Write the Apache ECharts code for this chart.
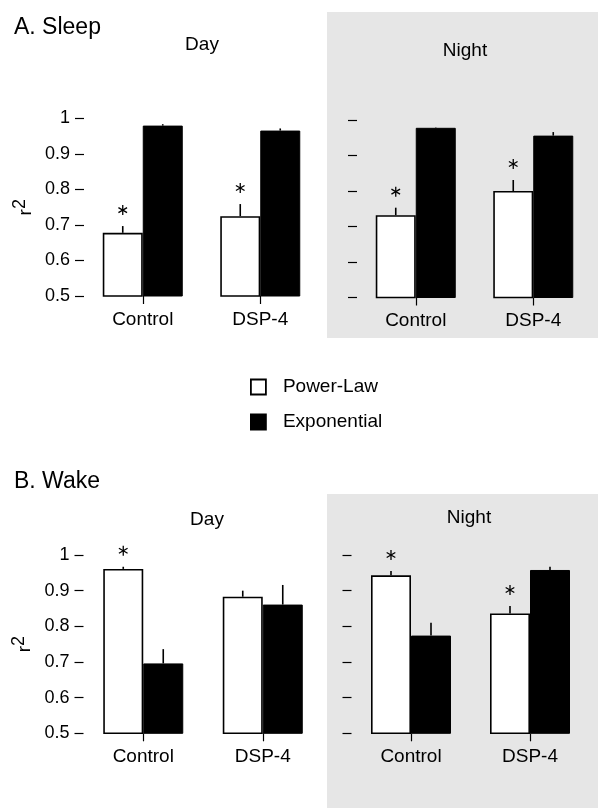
<!DOCTYPE html>
<html>
<head>
<meta charset="utf-8">
<style>
  html, body { margin: 0; padding: 0; background: #fff; }
  #chart { width: 598px; height: 808px; }
</style>
<script src="https://cdn.jsdelivr.net/npm/echarts@6/dist/echarts.min.js"></script>
</head>
<body>
<div id="chart"></div>
<script>
// Goodness of fit (r²) of power-law vs exponential models for bout durations
const categories = ['Control', 'DSP-4'];
const seriesNames = ['Power-Law', 'Exponential'];
const yTicks = [0.5, 0.6, 0.7, 0.8, 0.9, 1];

// A. Sleep
const sleepDayPower = [0.678, 0.725];
const sleepDayPowerErr = [0.019, 0.034];
const sleepDayExp = [0.980, 0.966];
const sleepDayExpErr = [0.004, 0.006];
const sleepDayStar = [true, true];

const sleepNightPower = [0.732, 0.800];
const sleepNightPowerErr = [0.021, 0.031];
const sleepNightExp = [0.978, 0.956];
const sleepNightExpErr = [0.001, 0.010];
const sleepNightStar = [true, true];

// B. Wake
const wakeDayPower = [0.961, 0.883];
const wakeDayPowerErr = [0.006, 0.017];
const wakeDayExp = [0.696, 0.861];
const wakeDayExpErr = [0.040, 0.055];
const wakeDayStar = [true, false];

const wakeNightPower = [0.943, 0.836];
const wakeNightPowerErr = [0.012, 0.021];
const wakeNightExp = [0.774, 0.958];
const wakeNightExpErr = [0.036, 0.009];
const wakeNightStar = [true, true];

const FONT = '"Liberation Sans", Arial, Helvetica, sans-serif';
const BAR_W = 40;
const STAR_R = 5;      // asterisk arm length
const STAR_LIFT = 16;  // distance from whisker tip to asterisk centre

const panels = [
  { grid: { left: 84, top: 118.5, width: 235, height: 177.5 }, showLabels: true,
    power: sleepDayPower, powerErr: sleepDayPowerErr, exp: sleepDayExp, expErr: sleepDayExpErr, star: sleepDayStar },
  { grid: { left: 357, top: 120, width: 235, height: 177.5 }, showLabels: false,
    power: sleepNightPower, powerErr: sleepNightPowerErr, exp: sleepNightExp, expErr: sleepNightExpErr, star: sleepNightStar },
  { grid: { left: 83.5, top: 555, width: 239, height: 178.3 }, showLabels: true,
    power: wakeDayPower, powerErr: wakeDayPowerErr, exp: wakeDayExp, expErr: wakeDayExpErr, star: wakeDayStar },
  { grid: { left: 351.5, top: 555, width: 238, height: 178.3 }, showLabels: false,
    power: wakeNightPower, powerErr: wakeNightPowerErr, exp: wakeNightExp, expErr: wakeNightExpErr, star: wakeNightStar }
];

// upper whisker of each bar, plus a six-armed asterisk where the difference is significant
function renderErr(params, api) {
  const cat = api.value(0), v = api.value(1), e = api.value(2), side = api.value(3), star = api.value(4);
  const base = api.coord([cat, v]);
  const top = api.coord([cat, v + e]);
  const x = base[0] + (side === 0 ? -BAR_W / 2 : BAR_W / 2);
  const children = [{
    type: 'line',
    shape: { x1: x, y1: base[1], x2: x, y2: top[1] },
    style: { stroke: '#000', lineWidth: 1.6 }
  }];
  if (star) {
    const cy = top[1] - STAR_LIFT;
    [90, 30, 150].forEach(deg => {
      const a = deg * Math.PI / 180;
      const dx = Math.cos(a) * STAR_R, dy = Math.sin(a) * STAR_R;
      children.push({
        type: 'line',
        shape: { x1: x - dx, y1: cy - dy, x2: x + dx, y2: cy + dy },
        style: { stroke: '#000', lineWidth: 1.3 }
      });
    });
  }
  return { type: 'group', children: children };
}

const grid = [], xAxis = [], yAxis = [], series = [];
panels.forEach((p, i) => {
  grid.push(p.grid);
  xAxis.push({
    type: 'category', gridIndex: i, data: categories,
    axisLine: { show: false },
    axisTick: { show: true, alignWithLabel: true, length: 8, lineStyle: { color: '#000', width: 1.2 } },
    axisLabel: { color: '#000', fontSize: 19, fontFamily: FONT, margin: 14 }
  });
  yAxis.push({
    type: 'value', gridIndex: i, min: yTicks[0], max: yTicks[yTicks.length - 1], interval: 0.1,
    name: p.showLabels ? '{a|r}{b|2}' : '', nameLocation: 'middle', nameRotate: 90, nameGap: 49,
    nameTextStyle: {
      color: '#000', fontSize: 19, fontFamily: FONT,
      rich: {
        a: { fontSize: 19, fontFamily: FONT, color: '#000', verticalAlign: 'bottom' },
        b: { fontSize: 18, fontFamily: FONT, color: '#000', verticalAlign: 'bottom', padding: [0, 0, 6, 0] }
      }
    },
    splitLine: { show: false },
    axisLine: { show: false },
    axisTick: { show: true, length: 9, lineStyle: { color: '#000', width: 1.2 } },
    axisLabel: { show: p.showLabels, color: '#000', fontSize: 18, fontFamily: FONT, margin: 14,
                 formatter: v => String(Math.round(v * 10) / 10) }
  });
  series.push({
    name: seriesNames[0], type: 'bar', xAxisIndex: i, yAxisIndex: i, barWidth: BAR_W, barGap: '0%',
    data: p.power, itemStyle: { color: '#fff', borderColor: '#000', borderWidth: 1.6 },
    emphasis: { disabled: true }
  });
  series.push({
    name: seriesNames[1], type: 'bar', xAxisIndex: i, yAxisIndex: i, barWidth: BAR_W, barGap: '0%',
    data: p.exp, itemStyle: { color: '#000', borderColor: '#000', borderWidth: 1 },
    emphasis: { disabled: true }
  });
  const errData = [];
  categories.forEach((c, k) => {
    errData.push([k, p.power[k], p.powerErr[k], 0, p.star[k] ? 1 : 0]);
    errData.push([k, p.exp[k], p.expErr[k], 1, 0]);
  });
  series.push({
    type: 'custom', xAxisIndex: i, yAxisIndex: i, renderItem: renderErr, data: errData,
    clip: false, z: 5, silent: true
  });
});

const chart = echarts.init(document.getElementById('chart'), null, { renderer: 'canvas' });
chart.setOption({
  animation: false,
  backgroundColor: '#fff',
  textStyle: { fontFamily: FONT },
  grid: grid,
  xAxis: xAxis,
  yAxis: yAxis,
  series: series,
  legend: {
    data: seriesNames, orient: 'vertical', left: 245, top: 372,
    icon: 'rect', itemWidth: 15, itemHeight: 15, itemGap: 15,
    itemStyle: { borderColor: '#000', borderWidth: 1.8 },
    textStyle: { color: '#000', fontSize: 19, fontFamily: FONT, padding: [0, 0, 0, 12], lineHeight: 20 },
    selectedMode: false
  },
  graphic: [
    { type: 'rect', z: -10, shape: { x: 327, y: 12, width: 271, height: 326 }, style: { fill: '#e6e6e6' } },
    { type: 'rect', z: -10, shape: { x: 327, y: 494, width: 271, height: 314 }, style: { fill: '#e6e6e6' } },
    { type: 'text', style: { x: 14, y: 28, text: 'A. Sleep', fontSize: 23, fontFamily: FONT, fill: '#000', verticalAlign: 'middle' } },
    { type: 'text', style: { x: 14, y: 482, text: 'B. Wake', fontSize: 23, fontFamily: FONT, fill: '#000', verticalAlign: 'middle' } },
    { type: 'text', style: { x: 202, y: 45, text: 'Day', fontSize: 19, fontFamily: FONT, fill: '#000', align: 'center', verticalAlign: 'middle' } },
    { type: 'text', style: { x: 465, y: 51, text: 'Night', fontSize: 19, fontFamily: FONT, fill: '#000', align: 'center', verticalAlign: 'middle' } },
    { type: 'text', style: { x: 207, y: 520, text: 'Day', fontSize: 19, fontFamily: FONT, fill: '#000', align: 'center', verticalAlign: 'middle' } },
    { type: 'text', style: { x: 469, y: 518, text: 'Night', fontSize: 19, fontFamily: FONT, fill: '#000', align: 'center', verticalAlign: 'middle' } }
  ]
});
</script>
</body>
</html>
